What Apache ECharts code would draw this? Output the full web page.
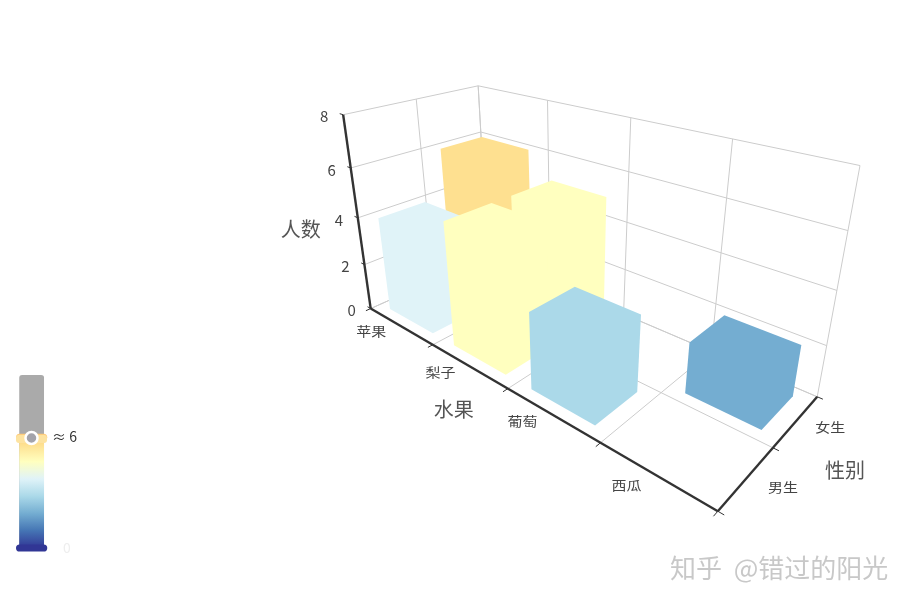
<!DOCTYPE html>
<html><head><meta charset="utf-8">
<style>html,body{margin:0;padding:0;background:#fff}#c{width:913px;height:605px}</style>
<script src="https://cdn.jsdelivr.net/npm/echarts@6/dist/echarts.min.js"></script>
</head><body><div id="c"></div>
<script>
const fruits = ['苹果','梨子','葡萄','西瓜'];
const genders = ['男生','女生'];
const countTicks = [0,2,4,6,8];
const countMax = 8;
const maleCounts = [4,5,3,null];
const femaleCounts = [6,5,null,2];
const axisNames = {x:'水果', y:'性别', z:'人数'};
const colorScale = ['#313695','#4575b4','#74add1','#abd9e9','#e0f3f8','#ffffbf','#fee090','#fdae61','#f46d43','#d73027','#a50026'];
const barFill = 0.69;

// Camera calibration: unit-box position -> page pixel of the frame's corners and ticks.
const frameAnchors = [
 [0,0,0,372,308],[1,0,0,717,510],[1,1,0,817,396],[0,0,1,344,115],[0,1,1,478,86],[1,1,1,860,165],
 [.25,0,0,432,345],[.5,0,0,507,390],[.75,0,0,600,443],[1,.5,0,775,448],
 [0,0,.25,365,265],[0,0,.5,357,218],[0,0,.75,350,168],[0,1,.75,480,132],
 [.25,1,1,548,101],[.5,1,1,630,118],[.75,1,1,733,140],[0,.5,1,417,97]
];
function solveCamera(pts){
  const n=11, A=Array.from({length:n},()=>new Array(n+1).fill(0));
  const add=(r,b)=>{for(let i=0;i<n;i++){for(let j=0;j<n;j++)A[i][j]+=r[i]*r[j];A[i][n]+=r[i]*b;}};
  pts.forEach(([X,Y,Z,u0,v0])=>{const u=u0/1000,v=v0/1000;
    add([X,Y,Z,1,0,0,0,0,-u*X,-u*Y,-u*Z],u);
    add([0,0,0,0,X,Y,Z,1,-v*X,-v*Y,-v*Z],v);});
  for(let i=0;i<n;i++){let p=i;for(let k=i+1;k<n;k++)if(Math.abs(A[k][i])>Math.abs(A[p][i]))p=k;
    [A[i],A[p]]=[A[p],A[i]];
    for(let k=0;k<n;k++){if(k===i)continue;const f=A[k][i]/A[i][i];for(let j=i;j<=n;j++)A[k][j]-=f*A[i][j];}}
  return A.map((r,i)=>r[n]/r[i]);
}
const P=solveCamera(frameAnchors);
function proj(X,Y,Z){
  const w=P[8]*X+P[9]*Y+P[10]*Z+1;
  return [1000*(P[0]*X+P[1]*Y+P[2]*Z+P[3])/w,1000*(P[4]*X+P[5]*Y+P[6]*Z+P[7])/w];
}

// frame segments from the axis scales
const nx=fruits.length, ny=genders.length;
const xs=[...Array(nx+1).keys()].map(i=>i/nx), ys=[...Array(ny+1).keys()].map(i=>i/ny), zs=countTicks.map(v=>v/countMax);
const gridSegs=[];
xs.forEach(x=>{gridSegs.push([x,0,0,x,1,0]);gridSegs.push([x,1,0,x,1,1]);});
ys.forEach(y=>{gridSegs.push([0,y,0,1,y,0]);gridSegs.push([0,y,0,0,y,1]);});
zs.forEach(z=>{gridSegs.push([0,0,z,0,1,z]);gridSegs.push([0,1,z,1,1,z]);});
const axisSegs=[[0,0,0,1,0,0],[1,0,0,1,1,0],[0,0,0,0,0,1]];
xs.forEach(x=>axisSegs.push([x,0,0,x,-.035,0]));
ys.forEach(y=>axisSegs.push([1,y,0,1.012,y,0]));
zs.forEach(z=>axisSegs.push([0,0,z,-.014,0,z]));

const fruitLabelOffsets=[[-29,5],[-28,7],[-29,7],[-29,10]];
const genderLabelOffsets=[[36,9],[34,6]];
const labels=[];
fruits.forEach((t,i)=>labels.push({t,p:[(i+.5)/nx,0,0],d:fruitLabelOffsets[i],font:'15px',c:'#444',sy:.85}));
genders.forEach((t,i)=>labels.push({t,p:[1,(i+.5)/ny,0],d:genderLabelOffsets[i],font:'15px',c:'#444',sy:.85}));
countTicks.forEach(v=>labels.push({t:String(v),p:[0,0,v/countMax],d:[-19,2],font:'15px',c:'#444',sy:1}));
labels.push({t:axisNames.x,p:[.5,0,0],d:[-54,21],font:'20px',c:'#555',sy:1});
labels.push({t:axisNames.y,p:[1,.5,0],d:[72,23],font:'20px',c:'#555',sy:1});
labels.push({t:axisNames.z,p:[0,0,.5],d:[-57,12],font:'20px',c:'#555',sy:1});

const barData=[];
genders.forEach((g,gi)=>{(gi?femaleCounts:maleCounts).forEach((v,fi)=>{if(v!==null)barData.push([fi,gi,v]);});});

const FONT='"Noto Sans CJK SC","Noto Sans",sans-serif';
const chart=echarts.init(document.getElementById('c'));
chart.setOption({
 animation:false,
 visualMap:{
   type:'continuous',seriesIndex:3,dimension:2,min:0,max:10,range:[0,6.4],calculable:true,realtime:true,
   left:1,bottom:35,itemWidth:25,itemHeight:173,
   inRange:{color:colorScale},
   controller:{outOfRange:{color:'#aaaaaa'}},
   text:null,showLabel:true,
   formatter:v=>v<1?'0':'',
   textStyle:{color:'#eeeeee',fontSize:14,fontFamily:FONT},
   handleIcon:'path://M-15,-4.5h30a4.5,4.5 0 0 1 0,9h-30a4.5,4.5 0 0 1 0,-9z',
   handleSize:'125%',handleStyle:{borderWidth:0}
 },
 series:[
  {type:'custom',coordinateSystem:'none',z:1,silent:true,data:gridSegs.map((s,i)=>[i]),
   renderItem:(p,api)=>{const s=gridSegs[api.value(0)],a=proj(s[0],s[1],s[2]),b=proj(s[3],s[4],s[5]);
     return {type:'line',shape:{x1:a[0],y1:a[1],x2:b[0],y2:b[1]},style:{stroke:'#cccccc',lineWidth:1}};}},
  {type:'custom',coordinateSystem:'none',z:5,silent:true,data:axisSegs.map((s,i)=>[i]),
   renderItem:(p,api)=>{const i=api.value(0),s=axisSegs[i],a=proj(s[0],s[1],s[2]),b=proj(s[3],s[4],s[5]);
     return {type:'line',shape:{x1:a[0],y1:a[1],x2:b[0],y2:b[1]},style:{stroke:'#333333',lineWidth:i<3?2.4:1}};}},
  {type:'custom',coordinateSystem:'none',z:6,silent:true,data:labels.map((s,i)=>[i]),
   renderItem:(p,api)=>{const l=labels[api.value(0)],a=proj(l.p[0],l.p[1],l.p[2]);
     return {type:'text',x:a[0]+l.d[0],y:a[1]+l.d[1],scaleY:l.sy,style:{x:0,y:0,text:l.t,fill:l.c,font:l.font+' '+FONT,align:'center',verticalAlign:'middle'}};}},
  {type:'custom',coordinateSystem:'none',z:3,silent:true,name:'人数',
   dimensions:['水果','性别','人数'],data:barData,
   renderItem:(p,api)=>{
     const xi=api.value(0),yi=api.value(1),v=api.value(2);
     const w=barFill/nx/2,d=barFill/ny/2,cx=(xi+.5)/nx,cy=(yi+.5)/ny,h=v/countMax;
     const x0=cx-w,x1=cx+w,y0=cy-d,y1=cy+d;
     const pts=[proj(x0,y0,0),proj(x1,y0,0),proj(x1,y1,0),proj(x1,y1,h),proj(x0,y1,h),proj(x0,y0,h)];
     return {type:'polygon',z2:xi-yi*2+5,shape:{points:pts},style:{fill:api.visual('color')}};
   }}
 ],
 graphic:[
  {type:'rect',z:99,shape:{x:16,y:435,width:31,height:8,r:3},style:{fill:'#fde3a0'}},
  {type:'circle',z:100,shape:{cx:31.5,cy:438,r:6},style:{fill:'#a3a3aa',stroke:'#ffffff',lineWidth:2.5}},
  {type:'text',z:100,style:{x:52,y:437,text:'≈ 6',fill:'#333',font:'14px '+FONT,verticalAlign:'middle'}},
  {type:'text',z:100,style:{x:670,y:568,text:'知乎  @错过的阳光',fill:'#c8c8c8',font:'26px '+FONT,verticalAlign:'middle'}}
 ]
});
</script></body></html>
